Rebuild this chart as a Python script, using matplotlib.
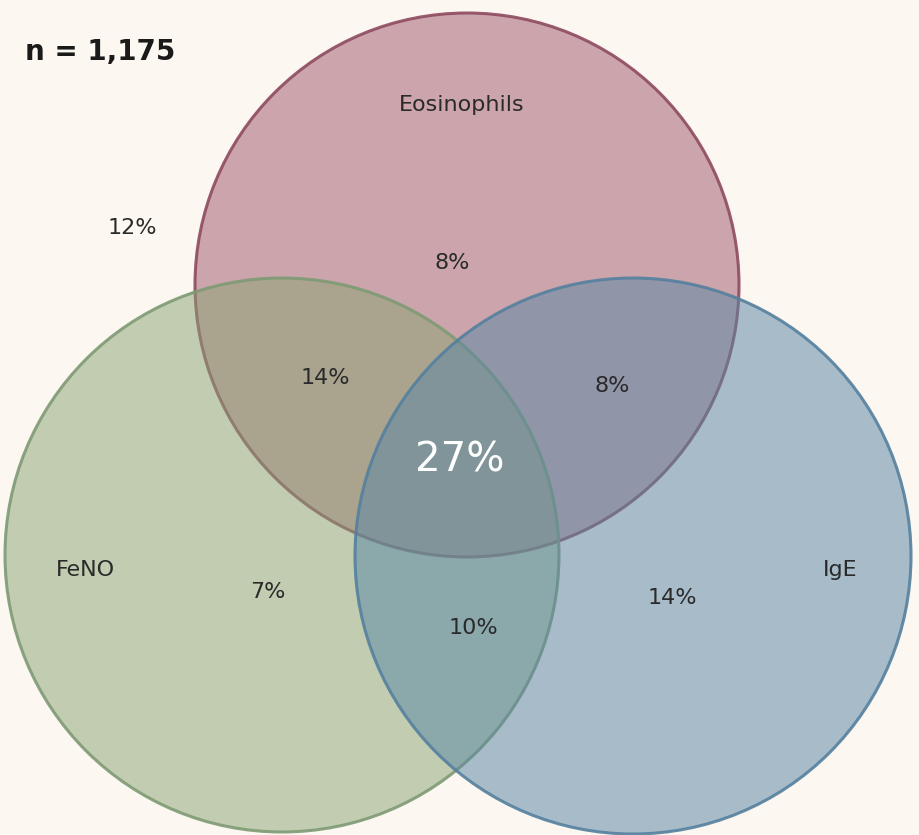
import matplotlib
matplotlib.use("Agg")
import matplotlib.pyplot as plt
from matplotlib.patches import Circle

sets = ["Eosinophils", "FeNO", "IgE"]
regions = ["none", "Eos only", "Eos+FeNO", "Eos+IgE", "all", "FeNO only", "FeNO+IgE", "IgE only"]
values = [12, 8, 14, 8, 27, 7, 10, 14]
n_total = "1,175"

bg = "#fcf7f0"
fig = plt.figure(figsize=(9.2, 8.35), dpi=100, facecolor=bg)
ax = fig.add_axes([0, 0, 1, 1])
ax.set_facecolor(bg)
ax.set_xlim(0, 920); ax.set_ylim(835, 0); ax.set_aspect("equal"); ax.axis("off")

circles = [((467, 285), 272, "#9e5a6c", "#8e4a60", 0.52),
           ((282, 555), 277, "#8aa372", "#7e9a74", 0.50),
           ((633, 556), 278, "#5a87a5", "#55809f", 0.52)]
for (c, r, fc, ec, a) in circles:
    ax.add_patch(Circle(c, r, facecolor=fc, alpha=a, edgecolor="none"))
    ax.add_patch(Circle(c, r, facecolor="none", edgecolor=ec, lw=2.2, alpha=0.9))

label_pos = [(462, 105), (85, 570), (840, 570)]
for s, (x, y) in zip(sets, label_pos):
    ax.text(x, y, s, ha="center", va="center", fontsize=16, color="#2a2a2a")

pos = [(132, 228), (452, 263), (325, 378), (612, 386), (460, 460), (268, 592), (473, 628), (672, 598)]
for v, (x, y), name in zip(values, pos, regions):
    if name == "all":
        ax.text(x, y, f"{v}%", ha="center", va="center", fontsize=29, color="white")
    else:
        ax.text(x, y, f"{v}%", ha="center", va="center", fontsize=16, color="#2a2a2a")

ax.text(25, 52, f"n = {n_total}", ha="left", va="center", fontsize=20, fontweight="bold", color="#1a1a1a")
fig.savefig("out.png", dpi=100, facecolor=bg)
